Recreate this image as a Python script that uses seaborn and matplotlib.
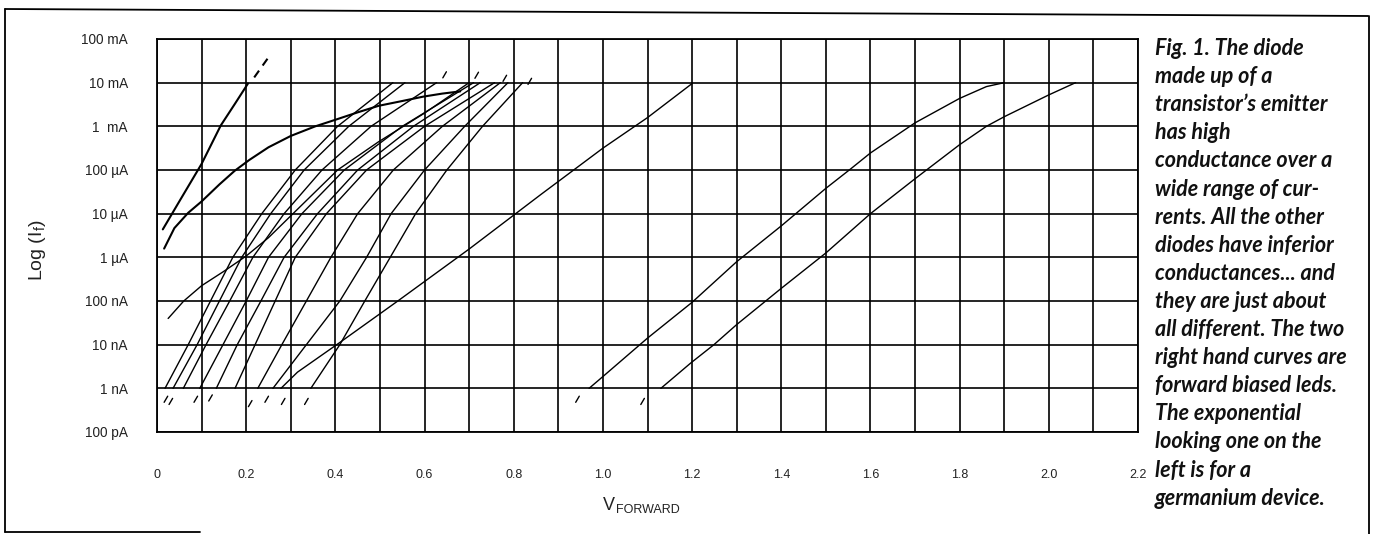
import numpy as np
import pandas as pd
import matplotlib
matplotlib.use("Agg")
import matplotlib.pyplot as plt
from matplotlib.lines import Line2D
import seaborn as sns

# ---- diode forward characteristics: V (volts) and log10 of forward current (A) ----
# steep curve on the far left
steep_v = [0.013, 0.05, 0.10, 0.143, 0.175, 0.204]
steep_l = [-5.36, -4.72, -3.86, -2.98, -2.48, -2.02]
steep_ext_v = [0.218, 0.250]
steep_ext_l = [-1.88, -1.42]

# bowed curve through the upper-left region
bowed_hi_v = [0.016, 0.039, 0.07, 0.10, 0.14, 0.174, 0.207, 0.25, 0.30, 0.355, 0.40, 0.45, 0.497, 0.55, 0.597, 0.64, 0.68]
bowed_hi_l = [-5.80, -5.33, -4.98, -4.72, -4.33, -4.02, -3.77, -3.48, -3.22, -3.00, -2.85, -2.68, -2.53, -2.42, -2.32, -2.25, -2.20]

# bowed curve through the lower-left region
bowed_lo_v = [0.025, 0.06, 0.10, 0.15, 0.20, 0.25, 0.30, 0.35, 0.405, 0.496, 0.598, 0.70]
bowed_lo_l = [-7.40, -7.00, -6.65, -6.32, -5.97, -5.55, -5.05, -4.55, -4.00, -3.36, -2.71, -2.00]

# silicon junctions, sampled at each decade from 1 nA to 10 mA
decades = [-9, -8, -7, -6, -5, -4, -3, -2]
d1_v = [0.018, 0.070, 0.120, 0.170, 0.235, 0.310, 0.405, 0.529]
d2_v = [0.036, 0.090, 0.140, 0.190, 0.255, 0.330, 0.430, 0.556]
d3_v = [0.059, 0.110, 0.163, 0.215, 0.285, 0.370, 0.480, 0.627]
d4_v = [0.096, 0.148, 0.200, 0.250, 0.325, 0.420, 0.550, 0.710]
d5_v = [0.133, 0.180, 0.233, 0.285, 0.360, 0.450, 0.575, 0.725]
d6_v = [0.175, 0.220, 0.265, 0.310, 0.380, 0.470, 0.600, 0.757]
d7_v = [0.226, 0.280, 0.335, 0.390, 0.450, 0.530, 0.640, 0.770]
d8_v = [0.260, 0.335, 0.410, 0.470, 0.525, 0.600, 0.690, 0.787]
d9_v = [0.345, 0.410, 0.466, 0.523, 0.580, 0.650, 0.730, 0.820]

# long straight trace reaching 10 mA at 1.2 V
long_v = [0.278, 0.315, 0.41, 0.54, 0.70, 0.861, 1.00, 1.10, 1.20]
long_l = [-9.00, -8.63, -7.95, -7.00, -5.81, -4.56, -3.50, -2.80, -2.02]

# the two LEDs on the right
led1_v = [0.969, 1.00, 1.10, 1.20, 1.30, 1.40, 1.50, 1.555, 1.60, 1.70, 1.80, 1.86, 1.90]
led1_l = [-9.00, -8.73, -7.85, -7.03, -6.10, -5.28, -4.42, -3.98, -3.61, -2.92, -2.36, -2.09, -2.00]
led2_v = [1.13, 1.197, 1.249, 1.30, 1.40, 1.50, 1.60, 1.70, 1.80, 1.86, 1.90, 2.00, 2.06]
led2_l = [-9.00, -8.42, -8.00, -7.54, -6.71, -5.90, -5.00, -4.20, -3.42, -3.00, -2.78, -2.28, -2.00]

# short extrapolation dashes below 1 nA and above 10 mA
low_dash_v = [0.020, 0.031, 0.087, 0.120, 0.209, 0.246, 0.283, 0.335, 0.943, 1.089]
low_dash_l = [-9.25, -9.30, -9.25, -9.22, -9.35, -9.25, -9.30, -9.30, -9.25, -9.30]
top_dash_v = [0.645, 0.717, 0.780, 0.836]
top_dash_l = [-1.82, -1.83, -1.90, -1.97]

# axis ticks
x_ticks = [0.0, 0.2, 0.4, 0.6, 0.8, 1.0, 1.2, 1.4, 1.6, 1.8, 2.0, 2.2]
x_tick_labels = ["0", "0.2", "0.4", "0.6", "0.8", "1.0", "1.2", "1.4", "1.6", "1.8", "2.0", "2.2"]
y_ticks = [1e-1, 1e-2, 1e-3, 1e-4, 1e-5, 1e-6, 1e-7, 1e-8, 1e-9, 1e-10]
y_tick_labels = ["100 mA", "10 mA", "1  mA", "100 \u00b5A", "10 \u00b5A", "1 \u00b5A",
                 "100 nA", "10 nA", "1 nA", "100 pA"]

caption_lines = [
    "Fig. 1. The diode",
    "made up of a",
    "transistor\u2019s emitter",
    "has high",
    "conductance over a",
    "wide range of cur-",
    "rents. All the other",
    "diodes have inferior",
    "conductances... and",
    "they are just about",
    "all different. The two",
    "right hand curves are",
    "forward biased leds.",
    "The exponential",
    "looking one on the",
    "left is for a",
    "germanium device.",
]

# ---- assemble long-form tables ----
def to_rows(name, vs, ls):
    return [dict(curve=name, V=v, I=10.0 ** l) for v, l in zip(vs, ls)]

thin_rows = []
for name, vs in [("d1", d1_v), ("d2", d2_v), ("d3", d3_v), ("d4", d4_v), ("d5", d5_v),
                 ("d6", d6_v), ("d7", d7_v), ("d8", d8_v), ("d9", d9_v)]:
    thin_rows += to_rows(name, vs, decades)
thin_rows += to_rows("bowed_lo", bowed_lo_v, bowed_lo_l)
thin_rows += to_rows("long", long_v, long_l)
thin_rows += to_rows("led1", led1_v, led1_l)
thin_rows += to_rows("led2", led2_v, led2_l)
thin = pd.DataFrame(thin_rows)

heavy = pd.DataFrame(to_rows("steep", steep_v, steep_l) + to_rows("bowed_hi", bowed_hi_v, bowed_hi_l))
steep_ext = pd.DataFrame(to_rows("ext", steep_ext_v, steep_ext_l))

dash_rows = []
for i, (v, l) in enumerate(zip(low_dash_v + top_dash_v, low_dash_l + top_dash_l)):
    dash_rows += to_rows(f"tick{i}", [v - 0.004, v + 0.004], [l - 0.07, l + 0.07])
dashes = pd.DataFrame(dash_rows)

# ---- figure ----
sns.set_theme(style="white")
plt.rcParams["font.family"] = ["Liberation Sans", "DejaVu Sans"]
plt.rcParams["mathtext.fontset"] = "custom"
plt.rcParams["mathtext.rm"] = "Liberation Sans"
plt.rcParams["mathtext.it"] = "Liberation Sans"

W, H = 1377, 534
fig = plt.figure(figsize=(W / 100, H / 100), dpi=100)
fig.patch.set_facecolor("white")
left, right, top, bottom = 157, 1138, 39, 432
ax = fig.add_axes([left / W, 1 - bottom / H, (right - left) / W, (bottom - top) / H])
ax.set_facecolor("white")
ax.set_yscale("log")

sns.lineplot(data=thin, x="V", y="I", units="curve", estimator=None, sort=False,
             color="black", lw=1.0, ax=ax)
sns.lineplot(data=heavy, x="V", y="I", units="curve", estimator=None, sort=False,
             color="black", lw=1.5, ax=ax)
sns.lineplot(data=steep_ext, x="V", y="I", units="curve", estimator=None, sort=False,
             color="black", lw=1.5, dashes=False, ax=ax, linestyle=(0, (4, 3)))
sns.lineplot(data=dashes, x="V", y="I", units="curve", estimator=None, sort=False,
             color="black", lw=1.0, ax=ax)

ax.set_xlim(0, 2.2)
ax.set_ylim(1e-10, 1e-1)
ax.set_xticks(x_ticks)
ax.set_xticklabels(x_tick_labels, fontsize=9)
ax.set_xticks(np.arange(0.1, 2.2, 0.2), minor=True)
ax.set_yticks(y_ticks)
ax.set_yticklabels(y_tick_labels, fontsize=9.8)
ax.yaxis.set_minor_locator(matplotlib.ticker.NullLocator())
ax.tick_params(axis="both", which="both", length=0, colors="#222222")
ax.tick_params(axis="x", pad=27)
ax.tick_params(axis="y", pad=21)
ax.grid(True, which="major", color="black", lw=1.2)
ax.grid(True, which="minor", axis="x", color="black", lw=1.2)
ax.set_axisbelow(True)
for s in ax.spines.values():
    s.set_color("black")
    s.set_linewidth(1.3)
ax.set_xlabel("")
ax.set_ylabel("")

# axis titles
fig.text(603 / W, 1 - 510 / H, "V", fontsize=13, va="baseline", ha="left", color="#222222")
fig.text(616 / W, 1 - 513 / H, "FORWARD", fontsize=9, va="baseline", ha="left", color="#222222")
fig.text(37 / W, 1 - 250 / H, r"Log (I$_{\rm f}$)", fontsize=14, rotation=90,
         va="center", ha="center", color="#222222")

# caption column
for i, line in enumerate(caption_lines):
    fig.text(1155 / W, 1 - (55 + i * 28.1) / H, line, fontsize=15.5, family=["Lato", "DejaVu Sans"],
             style="italic", weight="bold", va="baseline", ha="left", color="#111111")

# page frame
frame = dict(color="black", lw=1.3, transform=fig.transFigure)
fig.add_artist(Line2D([5 / W, 1368 / W], [1 - 9 / H, 1 - 16 / H], **frame))
fig.add_artist(Line2D([5 / W, 5 / W], [1 - 9 / H, 1 - 532 / H], **frame))
fig.add_artist(Line2D([1369 / W, 1369 / W], [1 - 16 / H, 0], **frame))
fig.add_artist(Line2D([5 / W, 200 / W], [1 - 532 / H, 1 - 532 / H], **frame))

fig.savefig("out.png", dpi=100, facecolor="white")
